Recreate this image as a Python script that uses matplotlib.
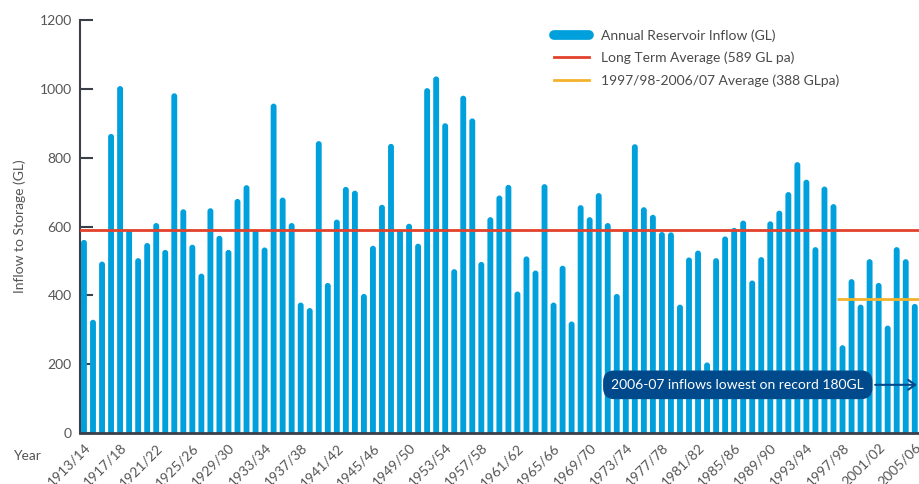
import numpy as np
import matplotlib
matplotlib.use('Agg')
import matplotlib.pyplot as plt
from matplotlib.lines import Line2D
from matplotlib.patches import FancyBboxPatch

plt.rcParams['font.family'] = ['Lato', 'DejaVu Sans']

# annual inflow to storage (GL), 1913/14 .. 2006/07
inflow = [561, 329, 498, 869, 1008, 590, 508, 552, 610, 532,
          987, 650, 547, 463, 653, 573, 532, 680, 720, 590,
          539, 957, 684, 610, 379, 363, 848, 436, 620, 715,
          704, 404, 544, 663, 840, 590, 608, 550, 1002, 1036,
          900, 476, 980, 914, 497, 627, 690, 721, 411, 513,
          472, 723, 379, 486, 324, 662, 627, 697, 610, 404,
          590, 839, 656, 634, 584, 583, 373, 510, 530, 205,
          508, 571, 596, 617, 443, 511, 615, 646, 700, 787,
          736, 540, 716, 665, 255, 447, 373, 505, 436, 312,
          540, 505, 375, 180]
years = [f"{y}/{(y + 1) % 100:02d}" for y in range(1913, 1913 + len(inflow))]
long_avg = 589
recent_avg = 388
recent_start = years.index("1997/98")

blue = '#00a0dc'
red = '#e2412c'
yellow = '#f3b22b'
navy = '#004a8c'
grey = '#555555'

fig = plt.figure(figsize=(9.2, 4.84), dpi=100)
ax = fig.add_axes([80 / 920, 51 / 484, 1 - 80 / 920, 1 - 71 / 484])

x = np.arange(len(inflow))
bars = ax.bar(x, inflow, width=0.65, color=blue, zorder=2)

# swap the plain rectangles for ones with rounded tops
for b in bars:
    b.set_visible(False)
    p = FancyBboxPatch((b.get_x(), -20), b.get_width(), b.get_height() + 20,
                       boxstyle='round,pad=0,rounding_size=0.32', mutation_aspect=27,
                       fc=blue, ec='none', zorder=2)
    ax.add_patch(p)

ax.axhline(long_avg, color=red, lw=2, zorder=3)
ax.hlines(recent_avg, recent_start - 0.6, len(inflow), color=yellow, lw=2, zorder=3)

ax.set_xlim(-0.44, 92.58)
ax.set_ylim(0, 1200)
ax.set_yticks(range(0, 1201, 200))
ax.set_xticks(x[:-1:4])
ax.set_xticklabels(years[:-1:4], rotation=45, ha='right', va='top',
                   rotation_mode='anchor', fontsize=10, color=grey)
ax.tick_params(axis='x', length=0, pad=6)
ax.tick_params(axis='y', direction='in', length=9, width=1.5, color='#3a3f4a',
               labelsize=10, labelcolor=grey, pad=6)

for s in ['top', 'right']:
    ax.spines[s].set_visible(False)
ax.spines['left'].set_color('#3a3f4a')
ax.spines['left'].set_linewidth(1.5)
ax.spines['bottom'].set_color('#3a3f4a')
ax.spines['bottom'].set_linewidth(2)
ax.spines['bottom'].set_zorder(4)

ax.set_ylabel('Inflow to Storage (GL)', fontsize=10, color=grey, labelpad=10)
fig.text(27 / 920, 1 - 456 / 484, 'Year', fontsize=10, color=grey, ha='center', va='center')

# annotation for the cut-off 2006/07 bar
ax.annotate('2006-07 inflows lowest on record 180GL', xy=(92.55, 140), xytext=(72.4, 140),
            ha='center', va='center', fontsize=10, color='white', annotation_clip=False,
            bbox=dict(boxstyle='round,pad=0.6,rounding_size=0.8', fc=navy, ec='none'),
            arrowprops=dict(arrowstyle='->,head_length=0.5,head_width=0.35', color=navy, lw=1.5),
            zorder=5)

handles = [Line2D([], [], color=blue, lw=7, solid_capstyle='round'),
           Line2D([], [], color=red, lw=2),
           Line2D([], [], color=yellow, lw=2)]
labels = ['Annual Reservoir Inflow (GL)', 'Long Term Average (589 GL pa)',
          '1997/98-2006/07 Average (388 GLpa)']
leg = fig.legend(handles, labels, loc='upper left', bbox_to_anchor=(554 / 920, 1 - 29 / 484),
                 frameon=False, fontsize=10, handlelength=2.5, handletextpad=0.9,
                 labelspacing=0.72, borderpad=0, borderaxespad=0)
for t in leg.get_texts():
    t.set_color('#4a4a4a')

fig.savefig('out.png', dpi=100)
